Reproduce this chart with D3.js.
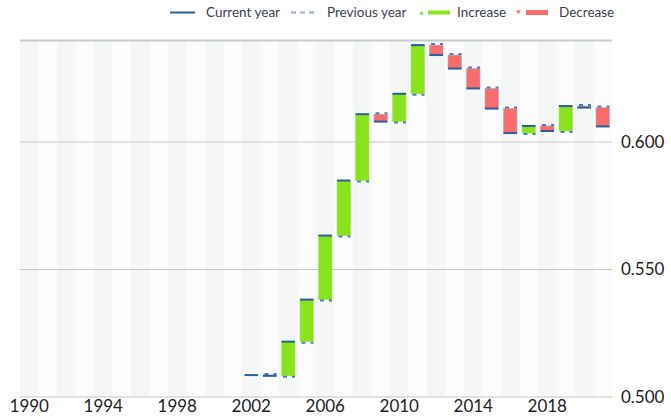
<!DOCTYPE html>
<html><head><meta charset="utf-8">
<script src="https://cdn.jsdelivr.net/npm/d3@7"></script>
<style>body{margin:0;background:#fff}svg{display:block;font-family:Lato,"Open Sans",sans-serif}</style>
</head><body><svg id="c" width="671" height="418"></svg>
<script>
const axisYears = d3.range(1990, 2022);
const years = [2002,2003,2004,2005,2006,2007,2008,2009,2010,2011,2012,2013,2014,2015,2016,2017,2018,2019,2020,2021];
const values = [0.5086,0.5083,0.5217,0.5382,0.5633,0.5849,0.6109,0.6080,0.6189,0.6380,0.6341,0.6288,0.6210,0.6131,0.6035,0.6063,0.6043,0.6141,0.6135,0.6061];
const xTickLabels = [1990,1994,1998,2002,2006,2010,2014,2018];
const yTicks = [0.5,0.55,0.6];
const legendLabels = ["Current year","Previous year","Increase","Decrease"];

const svg = d3.select("#c");
const L=20,R=612,T=40,B=397;
const x = d3.scaleBand().domain(axisYears).range([L,R]).padding(0);
const y = d3.scaleLinear().domain([0.5,0.64]).range([B,T]);
const bw = x.bandwidth()*0.73;
const blue="#2b5e9f", green="#88e31c", red="#fa6b6b";

// stripes
svg.append("g").selectAll("rect").data(axisYears).join("rect")
  .attr("x",d=>x(d)).attr("y",T).attr("width",x.bandwidth()+0.5).attr("height",B-T)
  .attr("fill",(d,i)=>i%2===0?"#f5f7f7":"#fcfcfc");

// grid
svg.append("g").selectAll("line").data(yTicks).join("line")
  .attr("x1",L).attr("x2",R).attr("y1",d=>y(d)).attr("y2",d=>y(d))
  .attr("stroke","#c3c6cb").attr("stroke-width",1.2);
svg.append("line").attr("x1",L).attr("x2",R).attr("y1",y(0.64)+0.5).attr("y2",y(0.64)+0.5)
  .attr("stroke","#c8cace").attr("stroke-width",2);

// y axis labels (right)
const yAxis = d3.axisRight(y).tickValues(yTicks).tickFormat(d3.format(".3f")).tickSize(0).tickPadding(0);
const ya = svg.append("g").attr("transform",`translate(${R+9},0)`).call(yAxis);
ya.select(".domain").remove();
ya.selectAll("text").attr("font-size",17).attr("fill","#222").attr("font-family","Lato,sans-serif");

// x axis labels
const xAxis = d3.axisBottom(x).tickValues(xTickLabels).tickSize(0).tickPadding(0);
const xa = svg.append("g").attr("transform",`translate(0,${B+3})`).call(xAxis);
xa.select(".domain").remove();
xa.selectAll("text").attr("font-size",17).attr("fill","#222").attr("font-family","Lato,sans-serif");

// bars
const data = years.map((yr,i)=>({yr, v:values[i], p: i>0?values[i-1]:null}));
const g = svg.append("g");
data.forEach(d=>{
  const cx = x(d.yr)+x.bandwidth()/2, x0 = cx-bw/2;
  if(d.p!==null){
    const up = d.v>=d.p;
    const top = y(Math.max(d.v,d.p)), bot = y(Math.min(d.v,d.p));
    if(bot-top>0.5){
      g.append("rect").attr("x",x0).attr("y",top).attr("width",bw).attr("height",bot-top)
        .attr("fill",up?green:red).attr("stroke",up?"#a6e65c":"#9db4d6").attr("stroke-width",0.6);
    }
    g.append("line").attr("x1",x0).attr("x2",x0+bw).attr("y1",y(d.p)+(up?1:-1)).attr("y2",y(d.p)+(up?1:-1))
      .attr("stroke","#3a69a8").attr("stroke-width",2).attr("stroke-dasharray","4,5").attr("stroke-dashoffset",-1.5).attr("opacity",0.85);
  }
  g.append("line").attr("x1",x0).attr("x2",x0+bw).attr("y1",y(d.v)).attr("y2",y(d.v))
    .attr("stroke",blue).attr("stroke-width",2);
});

// legend
const lg = svg.append("g").attr("font-size",13.5).attr("fill","#3b4150");
const ly = 12.5;
lg.append("line").attr("x1",170).attr("x2",195).attr("y1",ly).attr("y2",ly).attr("stroke",blue).attr("stroke-width",2);
lg.append("text").attr("x",206).attr("y",ly).attr("dy","0.35em").text(legendLabels[0]);
lg.append("line").attr("x1",291).attr("x2",314).attr("y1",ly).attr("y2",ly).attr("stroke","#a3b9d8").attr("stroke-width",2.5).attr("stroke-dasharray","5,4");
lg.append("text").attr("x",327).attr("y",ly).attr("dy","0.35em").text(legendLabels[1]);
lg.append("path").attr("d",`M419,${ly+2}L421.5,${ly-1.5}L424,${ly+2}Z`).attr("fill",green);
lg.append("line").attr("x1",428).attr("x2",450).attr("y1",ly).attr("y2",ly).attr("stroke",green).attr("stroke-width",4);
lg.append("text").attr("x",457).attr("y",ly).attr("dy","0.35em").text(legendLabels[2]);
lg.append("path").attr("d",`M516,${ly-2}L518.5,${ly+1.5}L521,${ly-2}Z`).attr("fill",red);
lg.append("line").attr("x1",526).attr("x2",548).attr("y1",ly).attr("y2",ly).attr("stroke",red).attr("stroke-width",5);
lg.append("text").attr("x",559).attr("y",ly).attr("dy","0.35em").text(legendLabels[3]);
</script></body></html>
